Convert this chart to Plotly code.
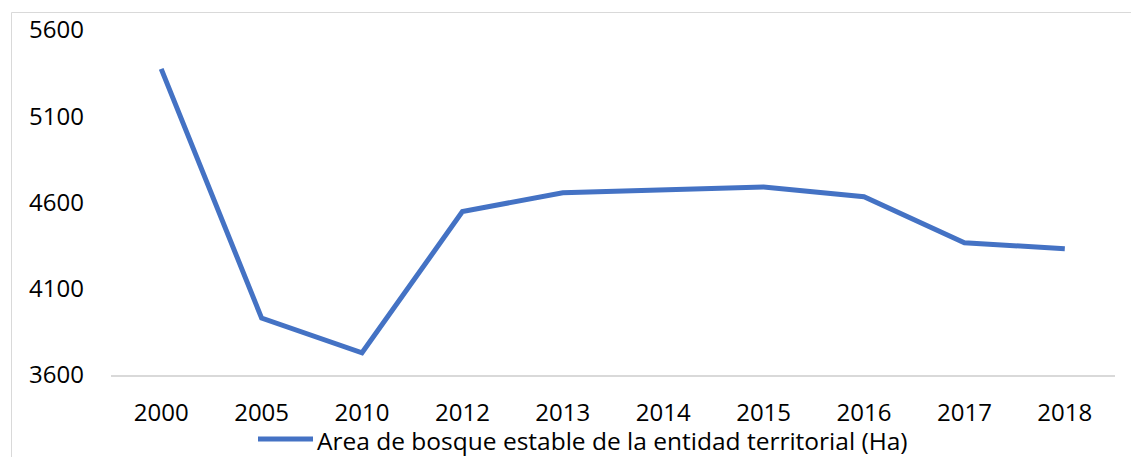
import plotly.graph_objects as go

# Stable forest area of the territorial entity, by year (ha)
years = ["2000", "2005", "2010", "2012", "2013", "2014", "2015", "2016", "2017", "2018"]
forest_area = [5375, 3930, 3729, 4547, 4657, 4673, 4690, 4633, 4367, 4332]
series_name = "Area de bosque estable de la entidad territorial (Ha)"
y_ticks = [3600, 4100, 4600, 5100, 5600]

W, H = 1131, 457
ML, MR, MT, MB = 111, 16, 30, 82
PW, PH = W - ML - MR, H - MT - MB

BLUE = "#4472C4"
GRID = "#D9D9D9"
FONT = "Open Sans"


def px_x(px):
    return (px - ML) / PW


def px_y(py):
    return (H - MB - py) / PH


fig = go.Figure()
fig.add_trace(go.Scatter(
    x=years, y=forest_area, name=series_name, mode="lines",
    line=dict(color=BLUE, width=5), showlegend=False,
))

shapes = [
    # outer chart frame (top and left edges visible)
    dict(type="rect", xref="paper", yref="paper",
         x0=px_x(11.5), x1=px_x(1140), y0=px_y(470), y1=px_y(12.5),
         line=dict(color=GRID, width=1), fillcolor="rgba(0,0,0,0)", layer="below"),
    # legend swatch
    dict(type="line", xref="paper", yref="paper",
         x0=px_x(258), x1=px_x(313), y0=px_y(439), y1=px_y(439),
         line=dict(color=BLUE, width=5)),
]

annotations = [
    dict(xref="paper", yref="paper", x=px_x(315), y=px_y(440),
         xanchor="left", yanchor="middle", showarrow=False,
         text=series_name, font=dict(family=FONT, size=24.5, color="#000000")),
]

fig.update_layout(
    width=W, height=H,
    margin=dict(l=ML, r=MR, t=MT, b=MB),
    paper_bgcolor="white", plot_bgcolor="white",
    font=dict(family=FONT, size=24, color="#000000"),
    shapes=shapes, annotations=annotations,
    xaxis=dict(
        type="category", range=[-0.5, len(years) - 0.5],
        showgrid=False, zeroline=False,
        showline=True, linecolor=GRID, linewidth=2,
        ticks="", ticklabelstandoff=15,
        tickfont=dict(family=FONT, size=24, color="#000000"),
    ),
    yaxis=dict(
        range=[3600, 5600], tickvals=y_ticks,
        showgrid=False, zeroline=False, showline=False,
        ticks="", ticklabelstandoff=26,
        tickfont=dict(family=FONT, size=24, color="#000000"),
    ),
)

fig.write_html("out.html")
